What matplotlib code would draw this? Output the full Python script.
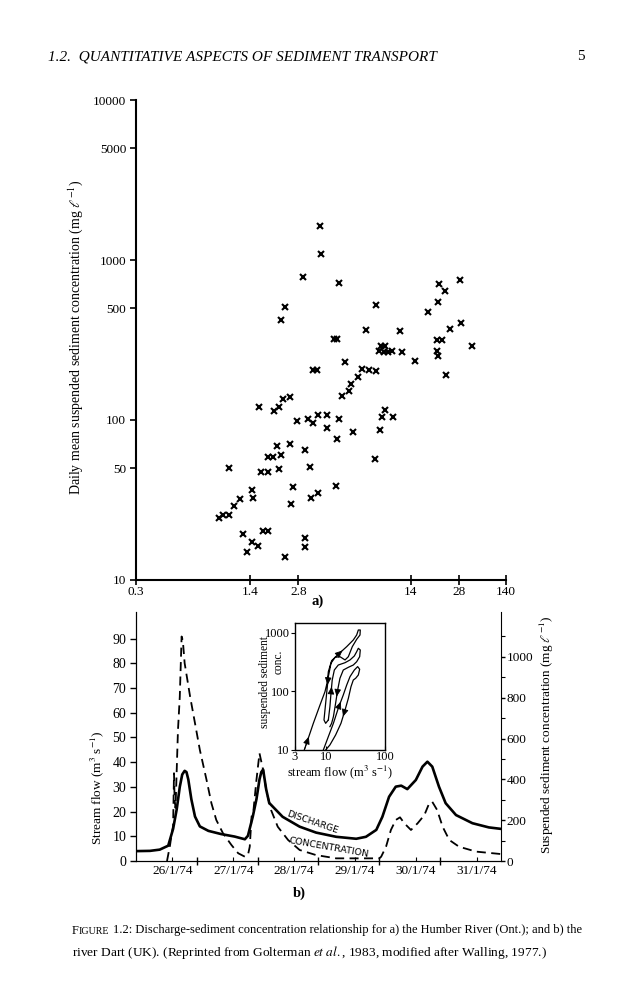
import numpy as np
import matplotlib
matplotlib.use('Agg')
import matplotlib.pyplot as plt
from matplotlib.ticker import NullLocator

plt.rcParams['font.family'] = ['Liberation Serif', 'DejaVu Serif']
plt.rcParams['mathtext.fontset'] = 'stix'

# ---- a) Humber River: daily mean stream flow vs suspended sediment ---------
flow_a = [3.8, 3.85, 3.0, 5.0, 2.32, 2.19, 8.5, 7.35, 12.1, 4.67, 4.9, 21.0, 23.0,
          28.4, 20.7, 17.9, 24.7, 28.8, 20.5, 22.0, 33.6, 20.5, 20.8, 23.3, 9.15,
          9.7, 8.95, 9.55, 10.1, 10.7, 12.3, 14.9, 5.5, 3.44, 3.67, 7.0, 7.7, 8.55,
          6.6, 6.0, 5.75, 5.2, 2.25, 2.5, 2.12, 1.97, 1.6, 2.75, 3.2, 3.47, 3.7,
          4.2, 5.05, 4.2, 4.85, 6.1, 9.25, 9.7, 10.9, 9.0, 8.4, 2.05, 2.5, 3.1,
          1.8, 1.95, 2.18, 1.03, 1.63, 1.82, 2.11, 3.3, 2.6, 4.8, 1.45, 1.46, 1.21,
          1.11, 1.04, 0.9, 0.95, 2.53, 3.37, 3.7, 1.27, 1.69, 1.81, 1.44, 1.56,
          1.34, 3.1, 3.1, 2.32]
conc_a = [1640, 1085, 780, 720, 505, 420, 520, 365, 358, 320, 320, 705, 640,
          745, 545, 470, 372, 405, 318, 318, 291, 270, 251, 191, 291,
          291, 271, 265, 267, 270, 266, 233, 231, 205, 205, 207, 205, 203,
          187, 168, 152, 141, 135, 140, 120, 114, 121, 98, 102, 96, 108,
          108, 102, 89, 76, 84, 104, 115, 104, 87, 57, 69, 71, 65,
          59, 59, 60, 50, 47, 47, 49.5, 50.5, 38, 38.5, 36.5, 32.5, 32,
          29, 25.5, 24.5, 25.5, 30, 32.7, 35, 19.4, 20.3, 20.3, 17.3, 16.4,
          14.9, 18.2, 16.1, 14]
xa_ticks = [0.273, 1.4, 2.8, 14, 28, 55]
xa_labels = ['0.3', '1.4', '2.8', '14', '28', '140']
ya_ticks = [10, 50, 100, 500, 1000, 5000, 10000]

# ---- b) river Dart: discharge and concentration hydrographs ----------------
day_q = [26.0, 26.23, 26.39, 26.53, 26.61, 26.67, 26.72, 26.76, 26.80, 26.83,
         26.86, 26.91, 26.97, 27.05, 27.19, 27.40, 27.62, 27.79, 27.84, 27.92,
         27.98, 28.03, 28.06, 28.09, 28.14, 28.19, 28.30, 28.41, 28.69, 28.96,
         29.29, 29.62, 29.78, 29.95, 30.05, 30.16, 30.27, 30.36, 30.46, 30.60,
         30.71, 30.79, 30.87, 30.98, 31.09, 31.26, 31.53, 31.80, 32.0]
q = [4.0, 4.1, 4.6, 6.2, 13, 21, 30, 35, 36.5, 36,
     33, 25, 18, 14, 12.2, 10.9, 9.9, 8.8, 10.2, 18,
     25, 33, 36, 37, 29, 23.5, 20.7, 17.9, 13.9, 11.5,
     9.8, 9.0, 9.8, 12.6, 17.9, 26, 30.1, 30.5, 29.1, 32.8,
     38.2, 40.2, 38.2, 30.1, 23.4, 18.6, 15.3, 13.6, 13.0]
day_c = [26.51, 26.56, 26.58, 26.61, 26.625, 26.635, 26.65, 26.69, 26.72, 26.75,
         26.77, 26.80, 26.89, 26.97, 27.05, 27.16, 27.24, 27.32, 27.43, 27.57,
         27.68, 27.79, 27.84, 27.87, 27.90, 27.92, 27.93, 27.98, 28.03, 28.09,
         28.14, 28.22, 28.33, 28.50, 28.69, 28.96, 29.29, 30.00, 30.03, 30.11,
         30.19, 30.27, 30.34, 30.41, 30.52, 30.63, 30.74, 30.82, 30.87, 30.95,
         31.04, 31.15, 31.31, 31.59, 32.0]
c = [0, 78, 119, 172, 430, 300, 260, 640, 805, 1100,
     1080, 969, 805, 675, 544, 397, 283, 201, 136, 78,
     38, 21, 29, 70, 217, 242, 245, 397, 528, 446,
     348, 250, 168, 103, 54, 29, 13, 13, 21, 70,
     152, 201, 214, 185, 152, 185, 225, 283, 290, 250,
     168, 103, 70, 46, 34]
date_labels = ['26/1/74', '27/1/74', '28/1/74', '29/1/74', '30/1/74', '31/1/74']
date_pos = [26.6, 27.6, 28.6, 29.6, 30.6, 31.6]
day_ticks = [27, 28, 29, 30, 31]

# inset: hysteresis loops, stream flow vs concentration (three events)
loop_q = [[4.31, 6.13, 7.95, 9.65, 10.6, 11.0, 12.5, 16.2, 22.5, 29.1, 33.2, 35.4,
           38.2, 37.8, 33.2, 28.0, 24.0, 21.1, 17.3, 14.3, 12.2, 11.0, 10.3, 9.65,
           9.29, 9.91, 11.0],
          [11.0, 11.7, 12.2, 12.8, 13.9, 16.2, 21.1, 25.6, 30.3, 33.2, 35.4, 38.2,
           37.3, 33.2, 29.1, 24.0, 19.7, 17.3, 15.8, 14.6, 13.4, 12.5, 11.7],
          [9.05, 11.0, 13.4, 16.2, 19.7, 22.5, 25.6, 30.3, 34.5, 37.3, 35.4, 31.9,
           29.1, 26.6, 24.0, 21.1, 18.0, 14.6, 11.7, 9.91]]
loop_c = [[10, 28.5, 58.5, 98.6, 146, 216, 333, 428, 578, 751, 914, 1112,
           1112, 914, 771, 578, 390, 343, 390, 380, 301, 178, 92.5, 48.1,
           32.5, 28.5, 32.5],
          [32.5, 54.8, 92.5, 156, 231, 281, 308, 343, 401, 474, 542, 507,
           390, 320, 281, 257, 231, 167, 105, 62.5, 37, 28.5, 25],
          [10, 16.9, 28.5, 51.4, 86.7, 128, 178, 231, 264, 238, 190, 167,
           156, 120, 76, 48.1, 28.5, 18, 12.2, 10]]
loop_arrows = [(0, 0), (0, 7), (0, 21), (1, 2), (1, 18), (2, 3), (2, 15)]

fig = plt.figure(figsize=(6.31, 10.0), dpi=100)

# ---- panel a ---------------------------------------------------------------
ax = fig.add_axes([0.2155, 0.42, 0.5864, 0.48])
ax.plot(flow_a, conc_a, ls='none', marker='x', ms=4.4, mew=1.5, color='k')
ax.set_xscale('log'); ax.set_yscale('log')
ax.set_xlim(0.273, 55); ax.set_ylim(10, 10000)
ax.set_xticks(xa_ticks, xa_labels)
ax.set_yticks(ya_ticks, [str(v) for v in ya_ticks])
ax.xaxis.set_minor_locator(NullLocator()); ax.yaxis.set_minor_locator(NullLocator())
for s in ('top', 'right'):
    ax.spines[s].set_visible(False)
for s in ('left', 'bottom'):
    ax.spines[s].set_linewidth(1.5)
ax.tick_params(axis='x', direction='inout', length=7, width=1.2, labelsize=9.5, pad=1)
ax.tick_params(axis='y', direction='out', length=4, width=1.2, labelsize=9.5, pad=3)
ax.set_ylabel('Daily mean suspended sediment concentration (mg $\\ell^{-1}$)', fontsize=10)
ax.yaxis.set_label_coords(-0.138, 0.506)
fig.text(0.504, 0.399, 'a)', fontsize=10.5, fontweight='bold', ha='center', va='center')

# ---- panel b ---------------------------------------------------------------
bx = fig.add_axes([0.2155, 0.139, 0.5785, 0.249])
bx.plot(day_q, q, color='k', lw=1.9, solid_joinstyle='round')
bx.set_xlim(26, 32); bx.set_ylim(0, 100.8)
bx.set_yticks(range(0, 91, 10))
bx.set_xticks(day_ticks, [''] * len(day_ticks))
bx.set_xticks(date_pos, date_labels, minor=True)
bx.tick_params(axis='x', which='major', direction='inout', length=6, width=1)
bx.tick_params(axis='x', which='minor', direction='in', length=3, width=0.8,
               labelsize=9.5, pad=3)
bx.tick_params(axis='y', direction='out', length=4, width=1, labelsize=10, pad=3)
bx.spines['top'].set_visible(False); bx.spines['right'].set_visible(False)
bx.set_ylabel('Stream flow (m$^3$ s$^{-1}$)', fontsize=9.5)
bx.yaxis.set_label_coords(-0.082, 0.295)

cx = bx.twinx()
cx.plot(day_c, c, color='k', lw=1.3, ls=(0, (5, 3)))
cx.set_ylim(0, 1220)
cx.set_yticks(range(0, 1001, 200))
cx.set_yticks(range(100, 1200, 200), minor=True)
cx.tick_params(axis='y', which='major', direction='out', length=3, width=1,
               labelsize=9.5, pad=1)
cx.tick_params(axis='y', which='minor', direction='out', length=3, width=0.8)
cx.spines['top'].set_visible(False)
cx.set_ylabel('Suspended sediment concentration (mg $\\ell^{-1}$)', fontsize=9.5)
cx.yaxis.set_label_coords(1.10, 0.506)

bx.text(28.9, 15.8, 'DISCHARGE', family='DejaVu Sans', fontsize=6.6, rotation=-19,
        ha='center', va='center')
bx.text(29.17, 5.6, 'CONCENTRATION', family='DejaVu Sans', fontsize=6.8, rotation=-10,
        ha='center', va='center')
fig.text(0.475, 0.107, 'b)', fontsize=10.5, fontweight='bold', ha='center', va='center')

# ---- inset ------------------------------------------------------------------
ix = fig.add_axes([0.4675, 0.25, 0.1426, 0.1273])
for lq, lc in zip(loop_q, loop_c):
    ix.plot(lq, lc, color='k', lw=0.9)
for k, i in loop_arrows:
    x0, y0 = loop_q[k][i], loop_c[k][i]
    x1, y1 = loop_q[k][i + 1], loop_c[k][i + 1]
    xm, ym = np.sqrt(x0 * x1), np.sqrt(y0 * y1)
    ix.annotate('', xy=(xm, ym), xytext=(x0, y0),
                arrowprops=dict(arrowstyle='-|>,head_length=0.45,head_width=0.2',
                                color='k', lw=0.6, shrinkA=0, shrinkB=0))
ix.set_xscale('log'); ix.set_yscale('log')
ix.set_xlim(3, 100); ix.set_ylim(10, 1480)
ix.set_xticks([3, 10, 100], ['3', '10', '100'])
ix.set_yticks([10, 100, 1000], ['10', '100', '1000'])
ix.xaxis.set_minor_locator(NullLocator()); ix.yaxis.set_minor_locator(NullLocator())
ix.tick_params(axis='x', direction='in', length=3, width=0.8, labelsize=9, pad=1)
ix.tick_params(axis='y', direction='out', length=3, width=0.8, labelsize=9, pad=1)
for s in ix.spines.values():
    s.set_linewidth(1.0)
ix.set_xlabel('stream flow (m$^3$ s$^{-1}$)', fontsize=9, labelpad=0)
fig.text(265 / 631, 1 - 682 / 1000, 'suspended sediment', rotation=90, fontsize=8.3,
         ha='center', va='center')
fig.text(279 / 631, 1 - 662 / 1000, 'conc.', rotation=90, fontsize=8.3,
         ha='center', va='center')

# ---- page header and caption ------------------------------------------------
fig.text(0.076, 0.943, '1.2.  QUANTITATIVE ASPECTS OF SEDIMENT TRANSPORT',
         style='italic', fontsize=11.0, va='center')
fig.text(0.927, 0.943, '5', fontsize=11.0, va='center', ha='right')

rend = fig.canvas.get_renderer()
def runs(x, y, parts):
    for s, kw in parts:
        if s is None:
            x += kw / fig.bbox.width
            continue
        t = fig.text(x, y, s, va='baseline', **kw)
        x += t.get_window_extent(rend).width / fig.bbox.width

runs(0.114, 0.0665, [('F', dict(fontsize=9.0)), ('IGURE', dict(fontsize=7.2)), (None, 3.3),
                     ('1.2: Discharge-sediment concentration relationship for a) the '
                      'Humber River (Ont.); and b) the', dict(fontsize=9.0))])
fig.text(0.114, 0.0443, 'river Dart (UK). (Reprinted from Golterman $\\mathit{et\\ al.}$, '
         '1983, modified after Walling, 1977.)', fontsize=9.6, va='baseline')

fig.savefig('out.png', dpi=100, facecolor='white')
